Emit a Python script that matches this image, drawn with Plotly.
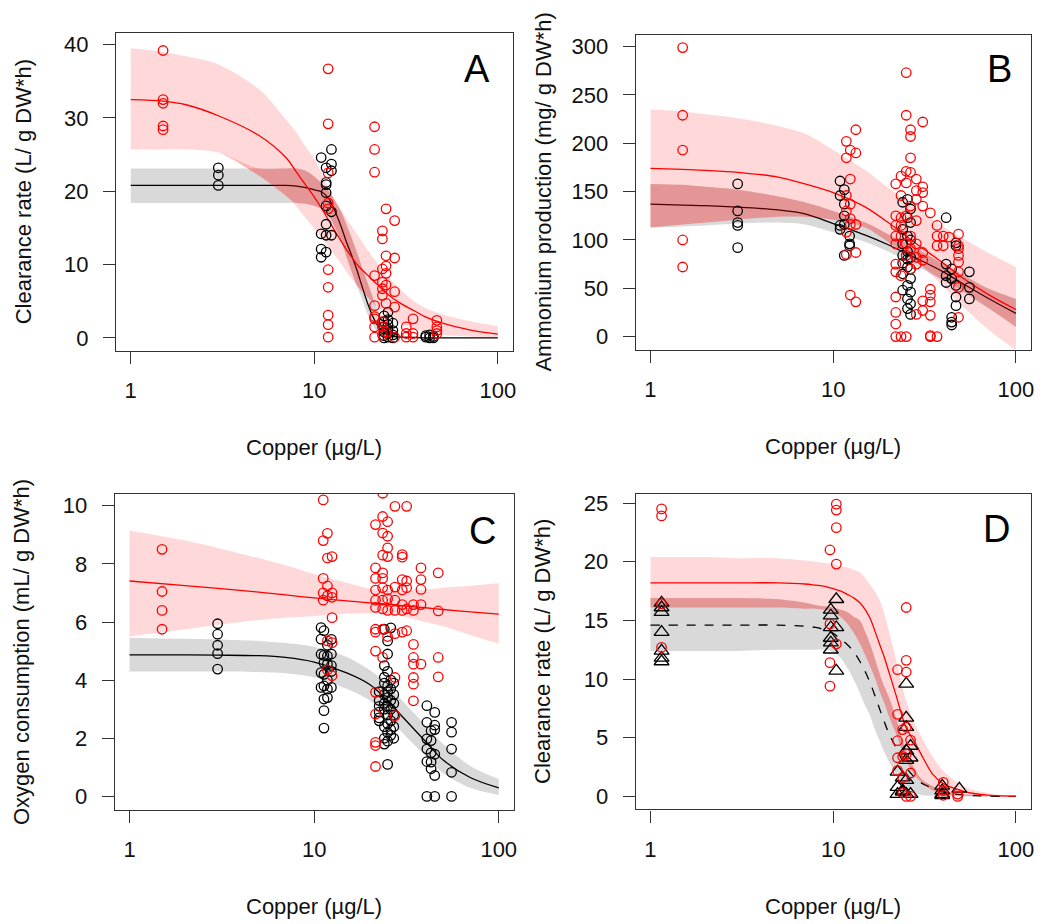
import numpy as np
import plotly.graph_objects as go

# ---------------- Panel A : clearance rate ----------------
a_grid = [1, 1.5, 2, 3, 5, 7, 8, 9, 10, 11, 12, 13, 14, 15, 16, 17, 18, 20, 22, 25, 30, 35, 40, 50, 70, 100]
a_red_fit = [32.5, 32.3, 31.8, 30.3, 27.6, 24.6, 22.6, 20.8, 19.2, 17.6, 16.0, 14.5, 13.2, 12.0, 11.0, 10.1, 9.4, 8.3, 7.3, 6.0, 4.6, 3.7, 2.9, 2.0, 1.1, 0.5]
a_red_hi = [39.5, 39.0, 38.4, 37.3, 33.9, 29.8, 28.0, 26.0, 24.4, 22.3, 20.3, 18.8, 17.5, 16.2, 15.2, 14.2, 13.3, 11.6, 10.2, 8.4, 6.4, 5.0, 4.1, 3.2, 2.3, 1.6]
a_red_lo = [25.7, 25.7, 25.7, 25.3, 22.1, 19.4, 17.9, 16.3, 14.9, 13.6, 12.4, 11.2, 10.1, 9.0, 8.1, 7.2, 6.5, 5.3, 4.2, 3.1, 1.9, 1.3, 0.8, 0.4, 0.2, 0.1]
a_blk_fit = [20.8, 20.8, 20.8, 20.8, 20.8, 20.8, 20.7, 20.5, 20.2, 19.9, 19.0, 17.2, 15.2, 13.0, 11.2, 9.4, 7.4, 4.0, 1.8, 0.4, 0.1, 0.05, 0.0, 0.0, 0.0, 0.0]
a_blk_hi = [23.1, 23.1, 23.1, 23.1, 23.1, 23.1, 23.1, 22.8, 22.0, 21.0, 20.0, 18.6, 17.2, 15.4, 13.6, 11.8, 10.0, 6.8, 4.0, 1.6, 0.4, 0.15, 0.05, 0.02, 0.02, 0.02]
a_blk_lo = [18.4, 18.4, 18.4, 18.4, 18.4, 18.4, 18.4, 18.3, 18.0, 17.6, 16.6, 15.0, 13.2, 11.0, 9.0, 7.2, 5.6, 2.6, 0.8, 0.1, 0.0, 0.0, 0.0, 0.0, 0.0, 0.0]
a_red_pts = [
    (1.5, [39.2, 32.5, 32.0, 28.9, 28.4]),
    (11.9, [36.7, 29.2, 22.5, 18.4, 17.6, 9.3, 6.9, 3.1, 1.8, 0.1]),
    (21.3, [28.8, 25.7, 22.6, 8.5, 4.4, 2.9, 2.6, 1.5, 0.1]),
    (23.5, [14.6, 13.5, 9.4, 7.6, 6.7, 5.8, 2.2, 1.5, 0.4]),
    (24.6, [17.6, 11.2, 9.8, 8.8, 7.2, 4.7, 0.8]),
    (27.4, [16.0, 10.9, 6.3, 4.2, 0.1]),
    (31.7, [1.5, 0.6, 0.1]),
    (34.5, [2.6, 0.6, 0.1]),
    (46.5, [2.4, 1.5, 1.0, 0.6]),
]
a_blk_pts = [
    (3.0, [23.2, 22.2, 20.8]),
    (10.9, [24.6, 14.2, 12.1, 11.0]),
    (11.6, [23.2, 21.2, 20.9, 19.8, 18.0, 15.5, 14.0, 11.7]),
    (12.4, [25.7, 23.7, 22.8, 17.2, 14.0]),
    (24.0, [3.0, 2.2, 1.5, 0.8, 0.3, 0.0]),
    (25.2, [3.5, 2.5, 1.8, 1.2, 0.6, 0.1]),
    (26.8, [2.0, 1.0, 0.4, 0.0]),
    (40.5, [0.3, 0.1]),
    (42.5, [0.4, 0.0]),
    (44.5, [0.2, 0.0]),
]

# ---------------- Panel B : ammonium production ----------------
b_grid = [1, 1.5, 2, 3, 5, 7, 10, 15, 20, 25, 30, 40, 50, 70, 100]
b_red_fit = [174, 173, 172, 170, 165, 158, 149, 134, 118, 104, 93, 76, 62, 44, 28]
b_red_hi = [235, 233, 230, 226, 218, 210, 193, 172, 154, 141, 131, 114, 103, 87, 72]
b_red_lo = [113, 116, 118, 121, 124, 124, 121, 113, 98, 86, 74, 52, 33, 8, -14]
b_blk_fit = [137, 136, 135.5, 134, 131, 127, 117, 105, 95, 86, 79, 67, 56, 40, 24]
b_blk_hi = [158, 157, 155, 152, 145, 139, 130, 118, 106, 97, 89, 75, 65, 50, 39]
b_blk_lo = [113, 114, 115, 117, 118, 116, 108, 98, 88, 79, 71, 58, 48, 30, 10]
b_red_pts = [
    (1.5, [299, 229, 193, 100, 72]),
    (11.8, [202, 185, 146, 130, 108, 85]),
    (12.4, [193, 163, 137, 122, 116, 43]),
    (13.3, [214, 190, 116, 87, 36]),
    (22.0, [158, 125, 115, 104, 96, 75, 67, 41, 25, 13, 0]),
    (23.5, [166, 146, 123, 115, 104, 63, 0]),
    (25.1, [273, 229, 171, 159, 125, 96, 84, 0]),
    (26.5, [214, 207, 185, 170, 135, 104, 91, 70]),
    (28.5, [163, 151, 142, 120, 96, 82, 75, 23]),
    (30.9, [222, 155, 149, 135, 87, 79, 37, 27]),
    (34.0, [128, 49, 43, 36, 22, 1, 0]),
    (37.0, [115, 104, 94, 0]),
    (40.0, [104, 94]),
    (43.0, [103]),
    (48.5, [106, 94, 91, 84, 77, 67, 51, 20]),
]
b_blk_pts = [
    (3.0, [158, 130, 118, 115, 92]),
    (10.9, [161, 146, 115, 111]),
    (11.5, [152, 137, 125, 116, 84]),
    (12.3, [104, 96, 94]),
    (24.0, [139, 111, 96, 84, 76, 65, 48]),
    (25.5, [142, 123, 104, 88, 80, 72, 53, 39, 29]),
    (26.5, [132, 118, 100, 82, 70, 60, 46, 34, 23]),
    (41.5, [123, 75, 63, 56]),
    (44.5, [70, 60, 20, 15, 12]),
    (47.0, [97, 94, 53, 41, 32]),
    (55.6, [67, 51, 39]),
]

# ---------------- Panel C : oxygen consumption ----------------
c_grid = [1, 2, 3, 5, 7, 10, 15, 20, 25, 30, 40, 50, 70, 100]
c_red_fit = [7.41, 7.25, 7.16, 7.03, 6.93, 6.83, 6.73, 6.66, 6.61, 6.56, 6.49, 6.43, 6.35, 6.27]
c_red_hi = [9.15, 8.8, 8.55, 8.2, 7.95, 7.65, 7.35, 7.15, 7.08, 7.07, 7.12, 7.18, 7.25, 7.33]
c_red_lo = [5.5, 5.75, 5.9, 6.07, 6.15, 6.2, 6.28, 6.3, 6.27, 6.2, 6.0, 5.85, 5.55, 5.25]
c_blk_fit = [4.87, 4.87, 4.86, 4.84, 4.78, 4.62, 4.25, 3.85, 3.3, 2.75, 1.9, 1.25, 0.65, 0.29]
c_blk_hi = [5.46, 5.42, 5.4, 5.35, 5.28, 5.15, 4.8, 4.35, 3.85, 3.3, 2.45, 1.8, 1.05, 0.6]
c_blk_lo = [4.3, 4.3, 4.3, 4.28, 4.24, 4.1, 3.7, 3.3, 2.75, 2.2, 1.4, 0.8, 0.3, 0.05]
c_red_pts = [
    (1.5, [8.5, 7.05, 6.4, 5.75]),
    (11.2, [10.2, 8.8, 7.5, 7.0, 6.75]),
    (11.8, [9.05, 8.2, 7.24, 6.9, 5.35, 4.35]),
    (12.5, [8.25, 7.0, 6.85, 6.15, 5.29, 4.15]),
    (21.5, [9.35, 7.86, 7.5, 7.1, 6.75, 6.5, 5.75, 5.65, 5.0, 3.58, 2.83, 1.86, 1.75, 1.03]),
    (23.5, [10.43, 9.63, 9.06, 8.3, 7.69, 7.5, 7.18, 6.75, 6.45, 5.75, 4.78]),
    (25.0, [9.45, 8.95, 8.55, 8.25, 7.1, 6.8, 6.4, 5.5]),
    (27.4, [9.98, 7.2, 6.75, 6.4, 5.6, 4.09, 2.78]),
    (30.0, [8.32, 8.23, 7.46, 7.1, 6.6, 6.4, 5.65]),
    (31.7, [9.98, 7.41, 7.18, 6.45, 5.7]),
    (34.5, [6.6, 6.4, 5.23, 4.78, 4.55, 4.09, 3.86, 3.29]),
    (37.9, [7.86, 7.46, 7.12, 6.6, 4.55]),
    (47.0, [7.69, 6.38, 4.78, 4.11]),
]
c_blk_pts = [
    (3.0, [5.94, 5.58, 5.2, 4.91, 4.38]),
    (10.9, [5.81, 5.41, 4.89, 4.26, 3.75]),
    (11.3, [5.7, 4.85, 4.6, 4.2, 3.8, 3.35, 2.95, 2.35]),
    (11.8, [5.2, 4.83, 4.55, 4.0, 3.69, 3.4]),
    (12.4, [5.4, 4.9, 4.5, 4.3, 3.75]),
    (22.5, [3.6, 3.3, 3.1, 2.9, 2.7, 2.6]),
    (24.0, [5.75, 4.5, 4.1, 3.9, 3.5, 3.2, 3.0, 2.4, 2.0, 1.8]),
    (25.0, [5.35, 4.9, 4.3, 3.8, 3.6, 3.4, 3.1, 2.8, 2.5, 2.2, 1.9, 1.1]),
    (26.0, [5.8, 4.0, 3.7, 3.3, 3.0, 2.6, 2.3, 2.1]),
    (27.0, [3.9, 3.5, 3.2, 2.8, 2.4, 2.0]),
    (40.8, [3.12, 2.55, 1.98, 1.63, 1.2, 0.0]),
    (43.0, [2.26, 1.92, 1.5, 1.18, 0.95]),
    (45.0, [2.89, 2.45, 2.3, 1.45, 0.72, 0.0]),
    (55.5, [2.55, 2.21, 1.63, 0.83, 0.0]),
]

# ---------------- Panel D : clearance rate ----------------
d_grid = [1, 2, 3, 5, 7, 8, 9, 10, 11, 12, 13, 14, 15, 16, 17, 18, 19, 20, 22, 25, 28, 31, 35, 40, 50, 60, 70, 85, 100]
d_red_fit = [18.2, 18.2, 18.2, 18.2, 18.1, 18.0, 17.9, 17.7, 17.5, 17.2, 16.9, 16.5, 15.9, 15.1, 14.0, 12.9, 11.9, 10.8, 8.7, 5.9, 4.6, 3.3, 1.9, 1.1, 0.5, 0.23, 0.12, 0.05, 0.02]
d_red_hi = [20.4, 20.4, 20.3, 20.3, 20.1, 20.0, 19.9, 19.8, 19.6, 19.5, 19.3, 19.1, 18.6, 18.0, 17.4, 16.7, 15.6, 14.3, 11.8, 8.2, 6.2, 4.8, 3.4, 2.2, 1.0, 0.5, 0.3, 0.12, 0.05]
d_red_lo = [16.1, 16.1, 16.1, 16.1, 16.0, 16.0, 15.9, 15.7, 15.3, 14.7, 13.9, 13.0, 12.0, 11.0, 10.0, 8.9, 8.0, 7.0, 5.4, 3.1, 1.8, 1.1, 0.5, 0.2, 0.05, 0.02, 0.01, 0.0, 0.0]
d_blk_fit = [14.6, 14.6, 14.6, 14.6, 14.5, 14.4, 14.2, 13.9, 13.4, 12.9, 12.3, 11.5, 10.6, 9.6, 8.5, 7.4, 6.4, 5.5, 4.2, 2.5, 1.6, 1.07, 0.7, 0.37, 0.15, 0.07, 0.03, 0.01, 0.0]
d_blk_hi = [16.9, 16.9, 16.9, 16.8, 16.5, 16.3, 16.2, 16.1, 15.9, 15.7, 15.3, 15.0, 14.0, 12.9, 11.6, 10.4, 9.4, 8.6, 6.8, 3.9, 2.3, 1.36, 0.9, 0.5, 0.2, 0.1, 0.05, 0.02, 0.0]
d_blk_lo = [12.4, 12.4, 12.4, 12.5, 12.5, 12.5, 12.5, 12.3, 11.8, 10.9, 9.9, 8.8, 7.7, 6.8, 5.6, 4.7, 3.8, 3.1, 1.9, 0.6, 0.3, 0.1, 0.05, 0.0, 0.0, 0.0, 0.0, 0.0, 0.0]
d_red_pts = [
    (1.15, [24.5, 23.9, 16.4, 12.7]),
    (9.6, [21.0, 14.7, 11.4, 9.4]),
    (10.4, [24.9, 24.4, 22.9, 19.8, 13.0]),
    (22.5, [10.8, 7.0, 4.75, 3.3, 2.2]),
    (24.0, [5.7, 3.4, 1.6, 0.3]),
    (25.1, [16.1, 11.6, 10.6, 5.9, 3.6, 0.0]),
    (26.5, [4.8, 2.0, 0.0]),
    (40.0, [1.2, 0.5, 0.1]),
    (48.0, [0.2, 0.0]),
]
d_blk_pts = [
    (1.15, [16.5, 16.1, 15.7, 14.0, 12.4, 11.8, 11.5]),
    (9.7, [15.9, 15.4, 14.4, 13.5, 13.1, 12.5]),
    (10.4, [16.8, 14.4, 10.7]),
    (22.5, [2.1, 0.8, 0.2]),
    (24.0, [1.6, 0.5, 0.4]),
    (25.1, [9.6, 6.7, 5.9, 3.9, 3.1, 1.4, 0.2]),
    (26.5, [4.3, 3.3, 0.2]),
    (39.5, [0.9, 0.5, 0.2, 0.1]),
    (49.0, [0.65]),
]

# ---------------- text ----------------
x_title = "Copper (µg/L)"
y_titles = ["Clearance rate (L/ g DW*h)", "Ammonium production (mg/ g DW*h)",
            "Oxygen consumption (mL/ g DW*h)", "Clearance rate (L/ g DW*h)"]
panel_letters = ["A", "B", "C", "D"]
y_ticks = [[0, 10, 20, 30, 40], [0, 50, 100, 150, 200, 250, 300],
           [0, 2, 4, 6, 8, 10], [0, 5, 10, 15, 20, 25]]
y_ranges = [[-1.77, 41.6], [-13.4, 311.8], [-0.456, 10.4], [-1.1, 25.76]]

FONT = "Liberation Sans, Arial, sans-serif"
W, H = 1048, 924
GRAY = "rgb(217,217,217)"
PINK = "rgba(255,0,0,0.15)"
OVER = "rgba(255,0,0,0.19)"
SM = 0.9

fig = go.Figure()


def expand(groups):
    xs, ys = [], []
    for xv, yl in groups:
        xs += [xv] * len(yl)
        ys += list(yl)
    return xs, ys


def band(grid, hi, lo, color, xa, ya):
    fig.add_trace(go.Scatter(x=grid, y=list(lo), mode="lines",
                             line=dict(width=0, color="rgba(0,0,0,0)", shape="spline", smoothing=SM),
                             hoverinfo="skip", showlegend=False, xaxis=xa, yaxis=ya))
    fig.add_trace(go.Scatter(x=grid, y=list(hi), mode="lines", fill="tonexty", fillcolor=color,
                             line=dict(width=0, color="rgba(0,0,0,0)", shape="spline", smoothing=SM),
                             hoverinfo="skip", showlegend=False, xaxis=xa, yaxis=ya))


def panel(i, grid, rf, rh, rl, bf, bh, bl, rpts, bpts, dashed=False, bsym="circle-open"):
    xa = "x" if i == 0 else f"x{i+1}"
    ya = "y" if i == 0 else f"y{i+1}"
    band(grid, bh, bl, GRAY, xa, ya)
    fig.add_trace(go.Scatter(x=grid, y=bf, mode="lines",
                             line=dict(color="black", width=1.3, dash="dash" if dashed else "solid",
                                       shape="spline", smoothing=SM),
                             showlegend=False, xaxis=xa, yaxis=ya))
    band(grid, rh, rl, PINK, xa, ya)
    olo = np.maximum(np.array(rl, float), np.array(bl, float))
    ohi = np.maximum(olo, np.minimum(np.array(rh, float), np.array(bh, float)))
    band(grid, ohi.tolist(), olo.tolist(), OVER, xa, ya)
    fig.add_trace(go.Scatter(x=grid, y=rf, mode="lines",
                             line=dict(color="red", width=1.3, shape="spline", smoothing=SM),
                             showlegend=False, xaxis=xa, yaxis=ya))
    bx, by = expand(bpts)
    fig.add_trace(go.Scatter(x=bx, y=by, mode="markers",
                             marker=dict(symbol=bsym, size=13 if "triangle" in bsym else 9.5,
                                         color="black", line=dict(width=1.3, color="black")),
                             showlegend=False, xaxis=xa, yaxis=ya))
    rx, ry = expand(rpts)
    fig.add_trace(go.Scatter(x=rx, y=ry, mode="markers",
                             marker=dict(symbol="circle-open", size=9.5, color="red",
                                         line=dict(width=1.3, color="red")),
                             showlegend=False, xaxis=xa, yaxis=ya))


panel(0, a_grid, a_red_fit, a_red_hi, a_red_lo, a_blk_fit, a_blk_hi, a_blk_lo, a_red_pts, a_blk_pts)
panel(1, b_grid, b_red_fit, b_red_hi, b_red_lo, b_blk_fit, b_blk_hi, b_blk_lo, b_red_pts, b_blk_pts)
panel(2, c_grid, c_red_fit, c_red_hi, c_red_lo, c_blk_fit, c_blk_hi, c_blk_lo, c_red_pts, c_blk_pts)
panel(3, d_grid, d_red_fit, d_red_hi, d_red_lo, d_blk_fit, d_blk_hi, d_blk_lo, d_red_pts, d_blk_pts,
      dashed=True, bsym="triangle-up-open")

# box positions in screen pixels (left, right, top, bottom)
boxes = [(116.5, 514.5, 30.0, 349.0), (638.3, 1034.5, 32.3, 347.7),
         (115.2, 515.5, 492.7, 809.3), (638.3, 1034.5, 492.7, 809.0)]
letter_pos = [(479, 66), (1003, 66), (484, 530), (1000, 528)]


def px(v):
    return v / W


def py(v):
    return 1 - v / H


layout = dict(width=W, height=H, margin=dict(l=0, r=0, t=0, b=0),
              paper_bgcolor="white", plot_bgcolor="white", showlegend=False,
              font=dict(family=FONT, size=22, color="black"))
annotations = []
for i, (l, r, t, b) in enumerate(boxes):
    sx = "" if i == 0 else str(i + 1)
    layout["xaxis" + sx] = dict(
        type="log", range=[-0.08, 2.08], domain=[px(l), px(r)], anchor="y" + sx,
        tickvals=[1, 10, 100], ticktext=["1", "10", "100"], ticks="outside", ticklen=12,
        tickwidth=1.3, tickcolor="#333", showline=True, mirror=True, linecolor="#333",
        linewidth=1.3, showgrid=False, zeroline=False, ticklabelstandoff=8,
        tickfont=dict(family=FONT, size=22, color="#111"))
    layout["yaxis" + sx] = dict(
        range=y_ranges[i], domain=[py(b), py(t)], anchor="x" + sx,
        tickvals=y_ticks[i], ticks="outside", ticklen=12, tickwidth=1.3, tickcolor="#333",
        showline=True, mirror=True, linecolor="#333", linewidth=1.3, showgrid=False,
        zeroline=False, ticklabelstandoff=10, tickfont=dict(family=FONT, size=22, color="#111"))
    cx = (l + r) / 2
    cy = (t + b) / 2
    annotations.append(dict(text=x_title, x=px(cx), y=py(b + 97), xref="paper", yref="paper",
                            showarrow=False, xanchor="center", yanchor="middle",
                            font=dict(family=FONT, size=22, color="#111")))
    annotations.append(dict(text=y_titles[i], x=px(l - 93), y=py(cy), xref="paper", yref="paper",
                            showarrow=False, xanchor="center", yanchor="middle", textangle=-90,
                            font=dict(family=FONT, size=22, color="#111")))
    lx, ly = letter_pos[i]
    annotations.append(dict(text=panel_letters[i], x=px(lx), y=py(ly),
                            xref="paper", yref="paper", showarrow=False, xanchor="center",
                            yanchor="middle", font=dict(family=FONT, size=38, color="black")))
layout["annotations"] = annotations
fig.update_layout(**layout)
fig.write_html("out.html", config={"displayModeBar": False},
               post_script="document.body.style.margin='0px';document.body.style.overflow='hidden';")
